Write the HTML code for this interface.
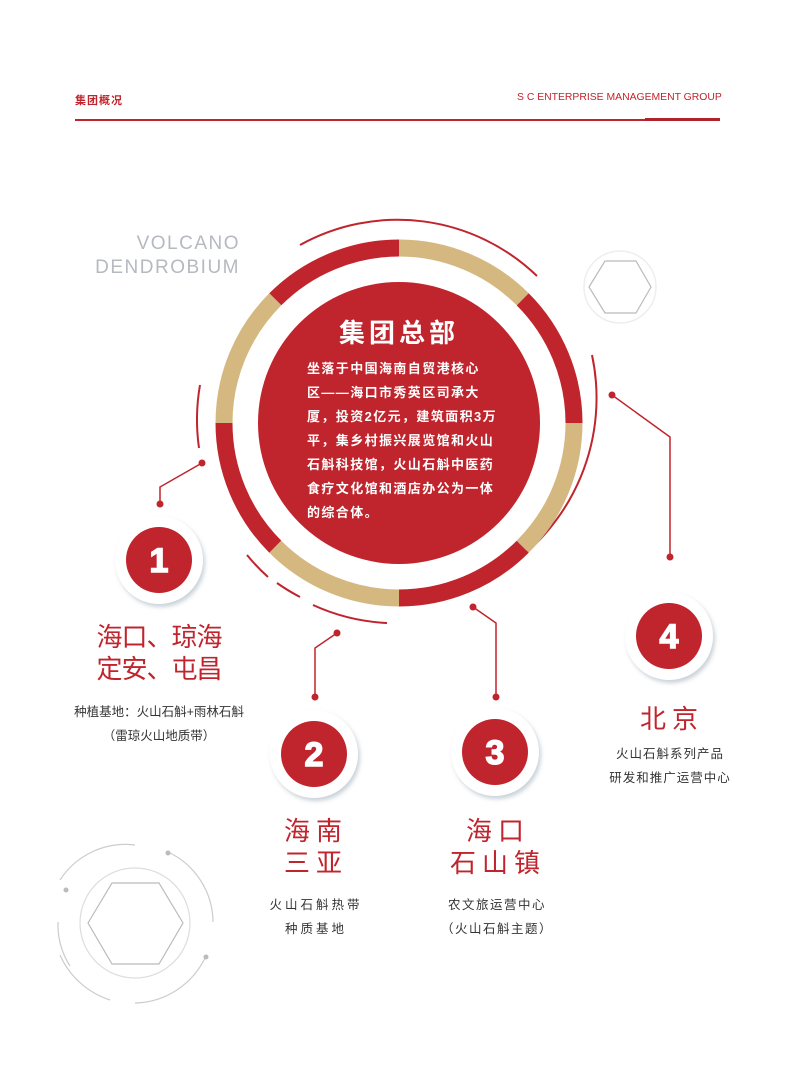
<!DOCTYPE html>
<html><head><meta charset="utf-8"><style>
body{margin:0;background:#fff;}
#p{position:relative;width:795px;height:1077px;overflow:hidden;background:#fff;font-family:"Liberation Sans","Noto Sans CJK SC",sans-serif;}
.t{position:absolute;white-space:nowrap;}
.c{transform:translateX(-50%);text-align:center;}
.red{color:#c0242c;}
.sub{color:#333;font-size:12.5px;letter-spacing:1px;}
</style></head><body><div id="p">
<div class="t red" style="left:75px;top:92px;font-size:11px;font-weight:bold;letter-spacing:1px;">集团概况</div>
<div class="t red" style="left:517px;top:92px;font-size:10.4px;">S C ENTERPRISE MANAGEMENT GROUP</div>
<div style="position:absolute;left:75px;top:119px;width:645px;height:1.5px;background:#c0242c"></div>
<div style="position:absolute;left:645px;top:118px;width:75px;height:3px;background:#b0232a"></div>
<div class="t" style="right:555px;top:232px;font-size:19px;color:#b5b9c0;letter-spacing:1.5px;line-height:24px;text-align:right;font-weight:300;">VOLCANO<br>DENDROBIUM</div>

<svg style="position:absolute;left:0;top:0" width="795" height="1077">
<defs><filter id="sh" x="-30%" y="-30%" width="160%" height="160%"><feDropShadow dx="2" dy="3" stdDeviation="2" flood-color="#8a9aa8" flood-opacity="0.45"/></filter></defs>
<g fill="none" stroke="#c0242c" stroke-width="2">
<path d="M300,245 A201,201 0 0 1 537,276"/>
<path d="M592,355 A205,205 0 0 1 503,570"/>
<path d="M247,555 A201,201 0 0 0 268,577"/>
<path d="M277,583 A201,201 0 0 0 300,597"/>
<path d="M313,605 A201,201 0 0 0 387,623"/>
<path d="M200,385 A201,201 0 0 0 199,448"/>
</g>
<g transform="translate(399,423)" fill="none" stroke-width="17">
<path d="M0,-175 A175,175 0 0 1 123.7,-123.7" stroke="#d5b880"/>
<path d="M123.7,-123.7 A175,175 0 0 1 175,0" stroke="#c0242c"/>
<path d="M175,0 A175,175 0 0 1 123.7,123.7" stroke="#d5b880"/>
<path d="M123.7,123.7 A175,175 0 0 1 0,175" stroke="#c0242c"/>
<path d="M0,175 A175,175 0 0 1 -123.7,123.7" stroke="#d5b880"/>
<path d="M-123.7,123.7 A175,175 0 0 1 -175,0" stroke="#c0242c"/>
<path d="M-175,0 A175,175 0 0 1 -123.7,-123.7" stroke="#d5b880"/>
<path d="M-123.7,-123.7 A175,175 0 0 1 0,-175" stroke="#c0242c"/>
<circle r="141" fill="#c0242c" stroke="none"/>
</g>
<g stroke="#c0242c" stroke-width="1.5" fill="none">
<polyline points="202,463 160,487 160,504"/>
<polyline points="337,633 315,648 315,697"/>
<polyline points="473,607 496,623 496,697"/>
<polyline points="612,395 670,437 670,557"/>
</g>
<g fill="#c0242c">
<circle cx="202" cy="463" r="3.5"/><circle cx="160" cy="504" r="3.5"/>
<circle cx="337" cy="633" r="3.5"/><circle cx="315" cy="697" r="3.5"/>
<circle cx="473" cy="607" r="3.5"/><circle cx="496" cy="697" r="3.5"/>
<circle cx="612" cy="395" r="3.5"/><circle cx="670" cy="557" r="3.5"/>
</g>
<g font-family="Liberation Sans, sans-serif" font-weight="900" font-size="34" fill="#fff" text-anchor="middle" stroke="#fff" stroke-width="1.5">
<g transform="translate(159,560)"><circle r="44" fill="#fff" stroke="none" filter="url(#sh)"/><circle r="33" fill="#c0242c" stroke="none"/><text y="12">1</text></g>
<g transform="translate(314,754)"><circle r="44" fill="#fff" stroke="none" filter="url(#sh)"/><circle r="33" fill="#c0242c" stroke="none"/><text y="12">2</text></g>
<g transform="translate(495,752)"><circle r="44" fill="#fff" stroke="none" filter="url(#sh)"/><circle r="33" fill="#c0242c" stroke="none"/><text y="12">3</text></g>
<g transform="translate(669,636)"><circle r="44" fill="#fff" stroke="none" filter="url(#sh)"/><circle r="33" fill="#c0242c" stroke="none"/><text y="12">4</text></g>
</g>
<circle cx="620" cy="287" r="36" fill="none" stroke="#eee" stroke-width="1.5"/>
<polygon points="589,287 605,261 636,261 651,287 636,313 605,313" fill="none" stroke="#bbb" stroke-width="1.2"/>
<g fill="none" stroke="#ccc" stroke-width="1.2">
<circle cx="135" cy="923" r="55" stroke="#ddd"/>
<path d="M135,845 A78,78 0 0 0 60,880"/>
<path d="M168,852 A78,78 0 0 1 213,922"/>
<path d="M60,955 A82,82 0 0 0 110,1000"/>
<path d="M205,958 A80,80 0 0 1 135,1003"/>
<path d="M58,922 A77,77 0 0 0 70,966"/>
<polygon points="88,923 112,883 159,883 183,923 159,964 112,964" stroke="#bbb"/>
</g>
<g fill="#bbb"><circle cx="66" cy="890" r="2.5"/><circle cx="168" cy="853" r="2.5"/><circle cx="206" cy="957" r="2.5"/></g>
</svg>

<div class="t c" style="left:399px;top:313px;font-size:26px;color:#fff;letter-spacing:4px;font-weight:bold;">集团总部</div>
<div class="t" style="left:307px;top:357px;font-size:13px;color:#fff;letter-spacing:1.4px;line-height:24px;font-weight:bold;">坐落于中国海南自贸港核心<br>区——海口市秀英区司承大<br>厦，投资2亿元，建筑面积3万<br>平，集乡村振兴展览馆和火山<br>石斛科技馆，火山石斛中医药<br>食疗文化馆和酒店办公为一体<br>的综合体。</div>

<div class="t c red" style="left:159px;top:621px;font-size:26px;line-height:32px;letter-spacing:-1px;">海口、琼海<br>定安、屯昌</div>
<div class="t c sub" style="left:159px;top:700px;line-height:24px;letter-spacing:0;">种植基地：火山石斛+雨林石斛<br>（雷琼火山地质带）</div>

<div class="t c red" style="left:316px;top:815px;font-size:26px;line-height:32px;letter-spacing:6px;">海南<br>三亚</div>
<div class="t c sub" style="left:316px;top:893px;line-height:24px;letter-spacing:3px;">火山石斛热带<br>种质基地</div>

<div class="t c red" style="left:498px;top:815px;font-size:26px;line-height:32px;letter-spacing:6px;">海口<br>石山镇</div>
<div class="t c sub" style="left:497px;top:893px;line-height:24px;letter-spacing:1.5px;">农文旅运营中心<br>（火山石斛主题）</div>

<div class="t c red" style="left:672px;top:699px;font-size:26px;letter-spacing:6px;">北京</div>
<div class="t c sub" style="left:670px;top:742px;line-height:24px;letter-spacing:1px;">火山石斛系列产品<br>研发和推广运营中心</div>
</div></body></html>
